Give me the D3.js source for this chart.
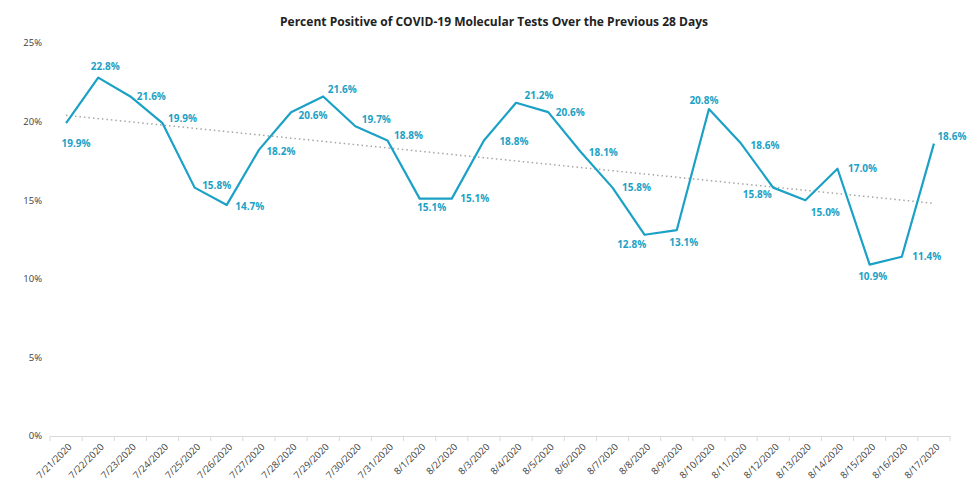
<!DOCTYPE html>
<html>
<head>
<meta charset="utf-8">
<script src="https://cdn.jsdelivr.net/npm/d3@7"></script>
<style>
  html, body { margin: 0; padding: 0; background: #fff; }
  svg { display: block; }
</style>
</head>
<body>
<svg id="chart" width="980" height="504"></svg>
<script>
const title = "Percent Positive of COVID-19 Molecular Tests Over the Previous 28 Days";
const dates = ["7/21/2020","7/22/2020","7/23/2020","7/24/2020","7/25/2020","7/26/2020","7/27/2020",
  "7/28/2020","7/29/2020","7/30/2020","7/31/2020","8/1/2020","8/2/2020","8/3/2020","8/4/2020",
  "8/5/2020","8/6/2020","8/7/2020","8/8/2020","8/9/2020","8/10/2020","8/11/2020","8/12/2020",
  "8/13/2020","8/14/2020","8/15/2020","8/16/2020","8/17/2020"];
const percentPositive = [19.9,22.8,21.6,19.9,15.8,14.7,18.2,20.6,21.6,19.7,18.8,15.1,15.1,18.8,21.2,
  20.6,18.1,15.8,12.8,13.1,20.8,18.6,15.8,15.0,17.0,10.9,11.4,18.6];
const trendEnds = [20.4, 14.8];
const yTicks = [0, 5, 10, 15, 20, 25];
// label placement: offset of label centre from point
const labelNudge = [[10,20],[7,-11],[21,0],[20,-5],[22,-2],[23,2],[22,2],[22,3],[19,-7],[21,-7],
  [21,-5],[12,9],[23,0],[30,1],[23,-7],[22,0],[23,1],[24,0],[-13,10],[7,12],[-5,-9],[24,2],
  [-16,7],[20,12],[25,0],[3,12],[25,0],[18,-7]];

const svg = d3.select("#chart");
const x = d3.scaleBand().domain(dates).range([50, 950]);
const y = d3.scaleLinear().domain([0, 25]).range([436, 43]);
const cx = d => x(d) + x.bandwidth() / 2;
const lineColor = "#1BA1C5";

svg.append("text").attr("x", 494).attr("y", 26).attr("text-anchor", "middle")
  .attr("font-family", "Open Sans").attr("font-weight", "bold").attr("font-size", 12)
  .attr("fill", "#222").attr("textLength", 428).attr("lengthAdjust", "spacingAndGlyphs").text(title);

// y axis labels
svg.append("g").selectAll("text").data(yTicks).join("text")
  .attr("x", 42).attr("y", d => y(d)).attr("dy", "0.35em").attr("text-anchor", "end")
  .attr("font-family", "Open Sans").attr("font-size", 9.5).attr("fill", "#404040")
  .text(d => d + "%");

// x axis
const xAxis = d3.axisBottom(x).tickSize(0).tickFormat("");
const gx = svg.append("g").attr("transform", "translate(0,436)").call(xAxis);
gx.select(".domain").attr("stroke", "#D9D9D9");
const edges = dates.map(d => x(d)).concat([950]);
svg.append("g").selectAll("line").data(edges).join("line")
  .attr("x1", d => d).attr("x2", d => d).attr("y1", 436).attr("y2", 441)
  .attr("stroke", "#D9D9D9");
svg.append("g").selectAll("text").data(dates).join("text")
  .attr("transform", d => `translate(${cx(d) + 4},445) rotate(-45)`)
  .attr("text-anchor", "end").attr("dy", "0.35em")
  .attr("font-family", "Open Sans").attr("font-size", 9.5).attr("fill", "#404040")
  .text(d => d);

// trendline
svg.append("line")
  .attr("x1", cx(dates[0])).attr("y1", y(trendEnds[0]))
  .attr("x2", cx(dates[dates.length - 1])).attr("y2", y(trendEnds[1]))
  .attr("stroke", "#A6A6A6").attr("stroke-width", 1.5).attr("stroke-dasharray", "1.5,3");

// series line
const pts = dates.map((d, i) => ({ d, v: percentPositive[i], i }));
svg.append("path").datum(pts)
  .attr("d", d3.line().x(p => cx(p.d)).y(p => y(p.v)))
  .attr("fill", "none").attr("stroke", lineColor).attr("stroke-width", 2.2)
  .attr("stroke-linejoin", "round");

// labels
svg.append("g").selectAll("text").data(pts).join("text")
  .attr("x", p => cx(p.d) + labelNudge[p.i][0]).attr("y", p => y(p.v) + labelNudge[p.i][1])
  .attr("dy", "0.35em").attr("text-anchor", "middle")
  .attr("font-family", "Open Sans").attr("font-weight", "bold").attr("font-size", 10)
  .attr("fill", lineColor).text(p => p.v.toFixed(1) + "%");
</script>
</body>
</html>
